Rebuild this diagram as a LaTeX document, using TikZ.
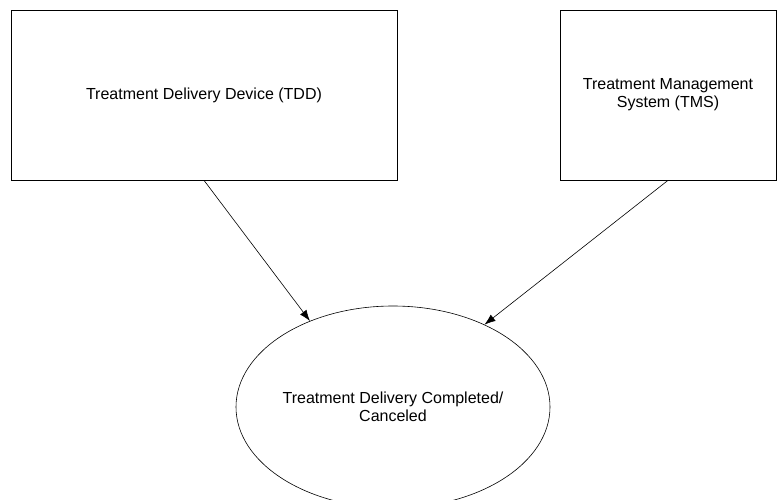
\documentclass[tikz,border=0pt]{standalone}
\usepackage{fontspec}
\setmainfont{Liberation Sans}
\usetikzlibrary{shapes.geometric,arrows.meta}

\begin{document}
\begin{tikzpicture}[x=1pt,y=-1pt,every node/.style={font=\fontsize{16}{18}\selectfont},
  box/.style={draw,line width=0.7pt,inner sep=0pt,align=center},
  link/.style={-{Latex[length=11pt,width=8pt]},line width=0.6pt}]

\useasboundingbox (0,0) rectangle (777,500);

% the two systems
\node (tdd) [box,minimum width=386pt,minimum height=170pt] at (204,95) {Treatment Delivery Device (TDD)};
\node (tms) [box,minimum width=216pt,minimum height=170pt] at (668,95) {Treatment Management\\System (TMS)};

% end state
\node (done) [ellipse,draw,line width=0.6pt,inner sep=0pt,align=center,
  minimum width=314pt,minimum height=202pt] at (393,407) {Treatment Delivery Completed/\\Canceled};

% arrows
\draw[link] (tdd.south) -- (done.134);
\draw[link] (tms.south) -- (done.42);
\end{tikzpicture}
\end{document}
